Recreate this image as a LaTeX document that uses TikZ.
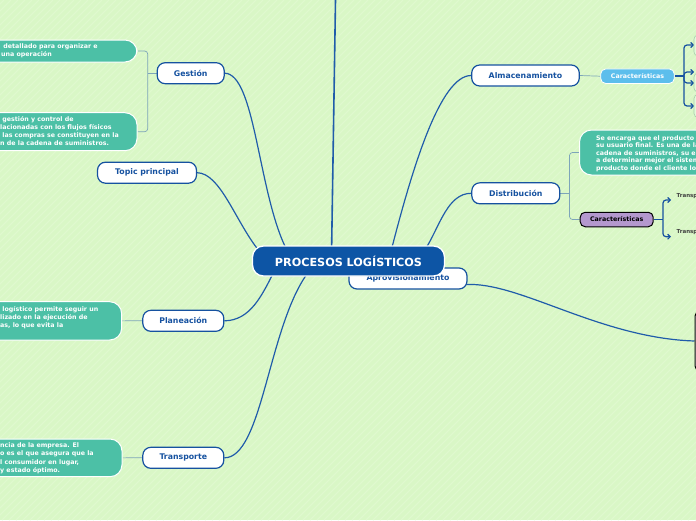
\documentclass[tikz,border=0pt]{standalone}
\usepackage{fontspec}
\setmainfont{DejaVu Sans}
\usetikzlibrary{arrows.meta,calc}
\definecolor{bgc}{RGB}{217,247,198}
\definecolor{stripec}{RGB}{223,249,206}
\definecolor{tb}{RGB}{22,82,160}
\definecolor{centc}{RGB}{13,85,165}
\definecolor{tealc}{RGB}{76,192,166}
\definecolor{lbc}{RGB}{92,190,236}
\definecolor{purc}{RGB}{180,152,206}
\definecolor{cb}{RGB}{32,92,170}
\definecolor{tc}{RGB}{125,165,185}
\definecolor{boxc}{RGB}{228,250,218}
\definecolor{boxd}{RGB}{165,205,170}
\pgfdeclarelayer{back}
\pgfdeclarelayer{lines}
\pgfsetlayers{back,lines,main}
\tikzset{
  topic/.style={draw=tb, line width=1.2pt, fill=white, rounded corners=8pt,
    font=\fontsize{7.8}{9}\selectfont\bfseries, text=tb, inner sep=0pt, minimum height=21pt},
  note/.style={fill=tealc, draw=white, line width=1pt, rounded corners=12pt, inner sep=0pt},
  notetext/.style={anchor=west, align=left, text=white, inner sep=0pt,
    font=\fontsize{6.3}{8}\selectfont\bfseries},
  conn/.style={draw=cb, line width=1.2pt},
  thinline/.style={draw=tc, line width=0.7pt},
  arr/.style={draw=tb, line width=1.2pt, rounded corners=3pt, -{Straight Barb[length=2.5pt,width=5pt]}},
  feat/.style={rounded corners=5pt, inner sep=0pt, minimum height=14.5pt,
    font=\fontsize{6.3}{7}\selectfont\bfseries},
  sidebox/.style={fill=boxc, draw=boxd, line width=0.6pt, rounded corners=4pt, inner sep=0pt},
}
\begin{document}
\begin{tikzpicture}[x=1pt,y=-1pt]
\useasboundingbox (0,0) rectangle (696,520);
\begin{pgfonlayer}{back}
  \clip (0,0) rectangle (696,520);
  \fill[bgc] (0,0) rectangle (696,520);
  \foreach \i in {-530,-523,...,700} \draw[stripec, line width=1.2pt] (\i,520) -- ++(520,-520);
\end{pgfonlayer}
\clip (0,0) rectangle (696,520);

% side boxes (partly off the right edge)
\node[sidebox, minimum width=40pt, minimum height=21pt] (s1) at (714,45.5) {};
\node[sidebox, minimum width=40pt, minimum height=19pt] (s2) at (714,82.5) {};
\node[sidebox, minimum width=40pt, minimum height=23pt] (s3) at (714,106) {};
\node[draw=black, fill=white, line width=1pt, rounded corners=4pt, minimum width=40pt, minimum height=58pt] (rb) at (715,341) {};

% notes
\node[note, minimum width=180pt, minimum height=22pt] (n1) at (47,51) {};
\node[notetext] (t1) at (1,51.2) {\ detallado para organizar e\\una operación};
\node[note, minimum width=180pt, minimum height=38pt] (n2) at (47,131.7) {};
\node[notetext] (t2) at (0,131.5) {\ gestión y control de\\lacionadas con los flujos físicos\\\ las compras se constituyen en la\\n de la cadena de suministros.};
\node[note, minimum width=170pt, minimum height=38.3pt] (n3) at (36.7,320.85) {};
\node[notetext] (t3) at (0,317.3) {\ logístico permite seguir un\\lizado en la ejecución de\\as, lo que evita la};
\node[note, minimum width=170pt, minimum height=37.7pt] (n4) at (37,457.85) {};
\node[notetext, font=\fontsize{6.3}{8.3}\selectfont\bfseries] (t4) at (0,458.2) {ncia de la empresa. El\\o es el que asegura que la\\l consumidor en lugar,\\y estado óptimo.};
\node[note, minimum width=180pt, minimum height=45pt] (n5) at (669.5,152.5) {};
\node[notetext, font=\fontsize{6.3}{7.5}\selectfont\bfseries] (t5) at (596,153.3) {Se encarga que el producto\\su usuario final. Es una de la\\cadena de suministros, su e\\a determinar mejor el sistema\\producto donde el cliente lo};

% main topics
\node[topic, minimum width=67pt] (g) at (190.7,73.2) {Gestión};
\node[topic, minimum width=99pt] (tp) at (147,172.7) {Topic principal};
\node[topic, minimum width=81pt] (p) at (183.3,320.8) {Planeación};
\node[topic, minimum width=81pt] (tr) at (183.3,457.8) {Transporte};
\node[topic, minimum width=107.6pt] (a) at (525.5,75.5) {Almacenamiento};
\node[topic, minimum width=88pt] (d) at (515.8,193.3) {Distribución};
\node[topic, minimum width=118pt] (ap) at (408,278.5) {Aprovisionamiento};
\node[feat, fill=lbc, draw=white, line width=0.8pt, text=white, minimum width=73.6pt] (c1) at (637.5,76.2) {Características};
\node[feat, fill=purc, draw=black, line width=1pt, text=black, minimum width=73pt] (c2) at (616.7,219.5) {Características};
\node[anchor=south west, inner sep=0pt, font=\fontsize{5.5}{6}\selectfont\bfseries, text=black!75] (x1) at (676.5,198.5) {Transp};
\node[anchor=south west, inner sep=0pt, font=\fontsize{5.5}{6}\selectfont\bfseries, text=black!75] (x2) at (676.5,235) {Transp};

% central topic
\node[fill=centc, draw=white, line width=1.3pt, rounded corners=11pt, minimum width=192pt, minimum height=30pt,
  inner sep=0pt, text=white, font=\fontsize{11.2}{12}\selectfont\bfseries] (cent) at (348.5,261) {PROCESOS LOGÍSTICOS};

\coordinate (top) at (335.5,0);
\coordinate (gb) at (147.7,73.2);
\coordinate (db) at (569.5,193.3);
\coordinate (cbk) at (684,76.2);
\coordinate (pbk) at (663,219.5);
\coordinate (e1) at (694,45);
\coordinate (e2) at (694,72);
\coordinate (e3) at (694,83);
\coordinate (e4) at (694,106);
\coordinate (f1) at (671,200);
\coordinate (f2) at (671,236.7);

\begin{pgfonlayer}{lines}
  \clip (0,0) rectangle (696,520);
  \draw[conn, line width=1.6pt] (top) -- ($(cent.center)+(-17,-5)$);
  \draw[conn] (g.east) .. controls (255,74) and (258,190) .. ($(cent.north)+(-63,2)$);
  \draw[conn] (tp.east) .. controls (220,173) and (235,220) .. ($(cent.north west)+(6,4)$);
  \draw[conn] (p.east) .. controls (250,320.8) and (262,295) .. ($(cent.south)+(-76,-2)$);
  \draw[conn] (tr.east) .. controls (262,457.8) and (268,330) .. ($(cent.south)+(-42,-2)$);
  \draw[conn] (a.west) .. controls (440,75.5) and (412,170) .. ($(cent.north)+(43.5,2)$);
  \draw[conn] (d.west) .. controls (448,193.3) and (440,225) .. ($(cent.north)+(78,2)$);
  \draw[conn] ($(ap.east)+(-1,6)$) .. controls (520,282) and (600,338) .. (rb.west);
  \draw[thinline, rounded corners=3pt] (n1.east) -| (gb) |- (n2.east);
  \draw[thinline] (gb) -- (g.west);
  \draw[thinline] (p.west) -- (n3.east);
  \draw[thinline] (tr.west) -- (n4.east);
  \draw[thinline] (a.east) -- (c1.west);
  \draw[thinline, rounded corners=3pt] (n5.west) -| (db) |- (c2.west);
  \draw[thinline] (d.east) -- (db);
  \draw[tb, line width=1.5pt] (c1.east) -- (cbk);
  \draw[arr] (cbk) |- (e1);
  \draw[arr] (cbk) |- (e2);
  \draw[arr] (cbk) |- (e3);
  \draw[arr] (cbk) |- (e4);
  \draw[tb, line width=1.5pt] (c2.east) -- (pbk);
  \draw[arr] (pbk) |- (f1);
  \draw[arr] (pbk) |- (f2);
\end{pgfonlayer}
\end{tikzpicture}
\end{document}
